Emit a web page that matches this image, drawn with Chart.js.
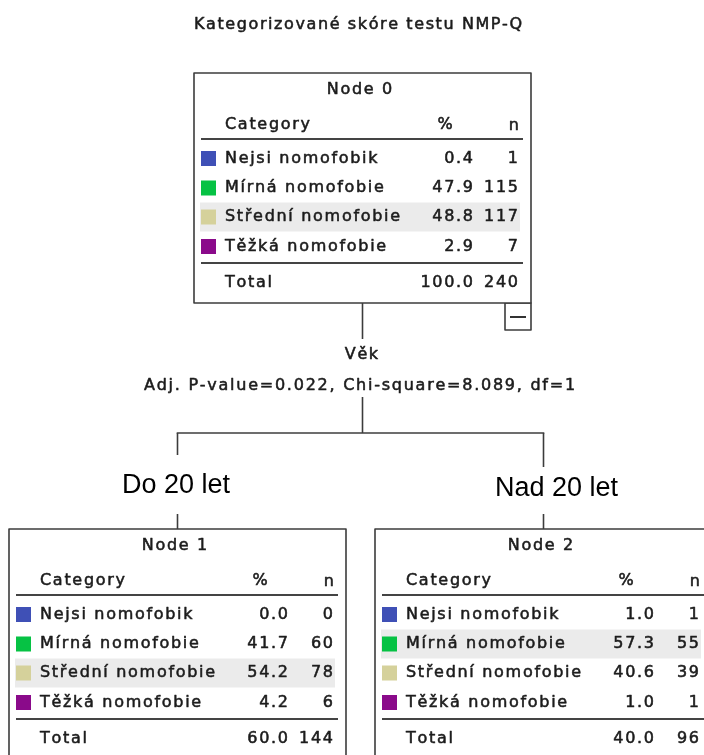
<!DOCTYPE html>
<html>
<head>
<meta charset="utf-8">
<script src="https://cdn.jsdelivr.net/npm/chart.js@4.4.1/dist/chart.umd.min.js"></script>
<style>
html,body{margin:0;padding:0;background:#fff;}
#wrap{width:704px;height:755px;overflow:hidden;}
</style>
</head>
<body>
<div id="wrap"><canvas id="c" width="704" height="755"></canvas></div>
<script>
// ---- Data ----
const chartTitle = 'Kategorizované skóre testu NMP-Q';
const categories = ['Nejsi nomofobik', 'Mírná nomofobie', 'Střední nomofobie', 'Těžká nomofobie'];
const categoryColors = ['#3f50b6', '#06c244', '#d5d19b', '#8a0a8a'];
const nodeNames = ['Node 0', 'Node 1', 'Node 2'];
const node0Pct = [0.4, 47.9, 48.8, 2.9];
const node0N = [1, 115, 117, 7];
const node1Pct = [0.0, 41.7, 54.2, 4.2];
const node1N = [0, 60, 78, 6];
const node2Pct = [1.0, 57.3, 40.6, 1.0];
const node2N = [1, 55, 39, 1];
const totalPct = [100.0, 60.0, 40.0];
const totalN = [240, 144, 96];
const splitVariable = 'Věk';
const splitStats = 'Adj. P-value=0.022, Chi-square=8.089, df=1';
const branchLabels = ['Do 20 let', 'Nad 20 let'];

const nodePct = [node0Pct, node1Pct, node2Pct];
const nodeN = [node0N, node1N, node2N];

// ---- Layout (styles / positions) ----
const BOX_W = 337, BOX_H = 230;
const boxPos = [{x: 194, y: 73}, {x: 9, y: 529}, {x: 375, y: 529}];
const TABLE_FONT = '16px "DejaVu Sans"';
const TABLE_SP = 1.7;
const SMALL_FONT = '16px "DejaVu Sans"';
const ink = '#1c1c1c';
const lineCol = '#3c3c3c';

function spacedText(ctx, text, x, y, align, sp) {
  const chars = Array.from(text);
  const ws = chars.map(c => ctx.measureText(c).width);
  const total = ws.reduce((a, b) => a + b, 0) + sp * (chars.length - 1);
  let sx = align === 'left' ? x : (align === 'right' ? x - total : x - total / 2);
  ctx.textAlign = 'left';
  ctx.strokeStyle = ctx.fillStyle;
  ctx.lineWidth = 0.55;
  ctx.lineJoin = 'round';
  chars.forEach((c, i) => { ctx.fillText(c, sx, y); ctx.strokeText(c, sx, y); sx += ws[i] + sp; });
}

function hline(ctx, x1, x2, y, w, col) {
  ctx.beginPath(); ctx.strokeStyle = col; ctx.lineWidth = w;
  ctx.moveTo(x1, y); ctx.lineTo(x2, y); ctx.stroke();
}
function vline(ctx, x, y1, y2, w, col) {
  ctx.beginPath(); ctx.strokeStyle = col; ctx.lineWidth = w;
  ctx.moveTo(x, y1); ctx.lineTo(x, y2); ctx.stroke();
}

function drawNode(ctx, k) {
  const {x, y} = boxPos[k];
  const pct = nodePct[k], ns = nodeN[k];
  const modal = ns.indexOf(Math.max(...ns));
  const rowY = [85.5, 115, 144, 173.5];
  // box
  ctx.fillStyle = '#fff';
  ctx.fillRect(x, y, BOX_W, BOX_H);
  ctx.strokeStyle = lineCol; ctx.lineWidth = 1.6;
  ctx.strokeRect(x, y, BOX_W, BOX_H);
  // shaded modal row
  ctx.fillStyle = '#ebebeb';
  ctx.fillRect(x + 6, y + rowY[modal] - 14.5, 320, 29);
  ctx.textBaseline = 'middle';
  ctx.fillStyle = ink;
  ctx.font = TABLE_FONT;
  spacedText(ctx, nodeNames[k], x + BOX_W / 2 - 3, y + 17, 'center', TABLE_SP);
  spacedText(ctx, 'Category', x + 31, y + 52, 'left', TABLE_SP);
  spacedText(ctx, '%', x + 251, y + 52, 'center', TABLE_SP);
  spacedText(ctx, 'n', x + 325, y + 53, 'right', TABLE_SP);
  hline(ctx, x + 7, x + 329, y + 66, 2, '#444');
  categories.forEach((cat, i) => {
    const ry = y + rowY[i];
    ctx.fillStyle = categoryColors[i];
    ctx.fillRect(x + 7, ry - 7.5, 15, 15);
    ctx.fillStyle = ink;
    spacedText(ctx, cat, x + 31, ry, 'left', TABLE_SP);
    spacedText(ctx, pct[i].toFixed(1), x + 279, ry, 'right', TABLE_SP);
    spacedText(ctx, String(ns[i]), x + 324, ry, 'right', TABLE_SP);
  });
  hline(ctx, x + 7, x + 329, y + 190, 2, '#444');
  ctx.fillStyle = ink;
  spacedText(ctx, 'Total', x + 31, y + 210, 'left', TABLE_SP);
  spacedText(ctx, totalPct[k].toFixed(1), x + 279, y + 210, 'right', TABLE_SP);
  spacedText(ctx, String(totalN[k]), x + 324, y + 210, 'right', TABLE_SP);
}

const treePlugin = {
  id: 'tree',
  afterDraw(chart) {
    const ctx = chart.ctx;
    ctx.save();
    ctx.fillStyle = '#fff';
    ctx.fillRect(0, 0, chart.width, chart.height);
    ctx.textBaseline = 'middle';
    ctx.fillStyle = ink;
    ctx.font = SMALL_FONT;
    spacedText(ctx, chartTitle, 358, 25, 'center', 1.6);

    const rootCx = boxPos[0].x + BOX_W / 2;
    const lCx = boxPos[1].x + BOX_W / 2;
    const rCx = boxPos[2].x + BOX_W / 2;
    // connectors
    vline(ctx, rootCx, boxPos[0].y + BOX_H, 339, 1.6, lineCol);
    vline(ctx, rootCx, 397, 433, 1.6, lineCol);
    hline(ctx, lCx - 0.8, rCx + 0.8, 433, 1.6, lineCol);
    vline(ctx, lCx, 433, 455, 1.6, lineCol);
    vline(ctx, rCx, 433, 467, 1.6, lineCol);
    vline(ctx, lCx, 514, boxPos[1].y, 1.6, lineCol);
    vline(ctx, rCx, 514, boxPos[2].y, 1.6, lineCol);

    // collapse button
    const bx = boxPos[0].x + BOX_W - 26, by = boxPos[0].y + BOX_H;
    ctx.strokeStyle = lineCol; ctx.lineWidth = 1.6;
    ctx.strokeRect(bx, by, 26, 27);
    hline(ctx, bx + 5, bx + 21, by + 14, 2, '#333');

    // split labels
    ctx.fillStyle = ink;
    ctx.font = SMALL_FONT;
    spacedText(ctx, splitVariable, rootCx - 1, 355, 'center', 1.6);
    spacedText(ctx, splitStats, rootCx - 3, 386, 'center', 1.75);

    ctx.font = '27px "Liberation Sans"';
    ctx.fillStyle = '#000';
    ctx.textAlign = 'left';
    ctx.fillText(branchLabels[0], 122, 486);
    ctx.fillText(branchLabels[1], 495, 489);

    for (let k = 0; k < 3; k++) drawNode(ctx, k);
    ctx.restore();
  }
};

new Chart(document.getElementById('c'), {
  type: 'bar',
  data: { labels: categories, datasets: [] },
  options: {
    responsive: false,
    animation: false,
    devicePixelRatio: 1,
    plugins: { legend: { display: false }, tooltip: { enabled: false }, title: { display: false } },
    scales: { x: { display: false }, y: { display: false } }
  },
  plugins: [treePlugin]
});
</script>
</body>
</html>
